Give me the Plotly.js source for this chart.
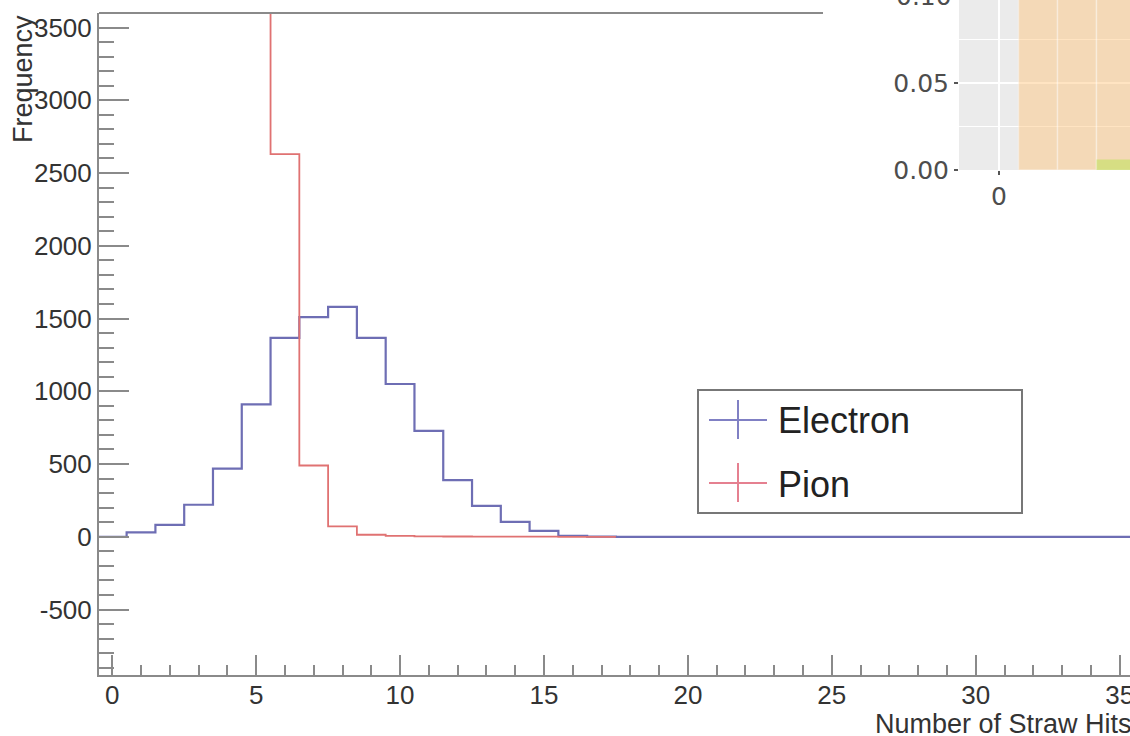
<!DOCTYPE html>
<html>
<head>
<meta charset="utf-8">
<script src="https://cdn.plot.ly/plotly-3.0.1.min.js"></script>
<style>
html,body{margin:0;padding:0;background:#fff;}
#chart{width:1130px;height:736px;}
</style>
</head>
<body>
<div id="chart"></div>
<script>
// ---------------- data ----------------
const electronBins   = [0,1,2,3,4,5,6,7,8,9,10,11,12,13,14,15,16,17,18,19,20,21,22,23,24,25,26,27,28,29,30,31,32,33,34,35,36];
const electronCounts = [0,30,82,220,468,910,1367,1510,1580,1367,1050,728,390,213,103,41,7,1,0,0,0,0,0,0,0,0,0,0,0,0,0,0,0,0,0,0,0];
const pionBins       = [0,1,2,3,4,5,6,7,8,9,10,11,12,13,14,15,16,17];
const pionCounts     = [3900,4300,4700,5000,4800,4400,2630,490,72,14,6,3,2,1,1,1,0,0];
const xTickVals      = [0,5,10,15,20,25,30,35];
const yTickVals      = [-500,0,500,1000,1500,2000,2500,3000,3500];
// inset (overlapping chart in the top-right corner)
const insetBins      = [1,2,3];
const insetOrange    = [0.16,0.20,0.24];
const insetGreen     = [0,0,0.006];
const insetYTicks    = [0,0.05,0.10];
const insetYLabels   = ['0.00','0.05','0.10'];
const insetXTicks    = [0];
const legendNames    = ['Electron','Pion'];

// -------------- helpers ---------------
const W=1130,H=736,L=99,R=0,T=0,B=61;
const PW=W-L-R, PH=H-T-B;
const px = x => (x-L)/PW;
const py = y => (H-B-y)/PH;

function stepEdges(centers, counts){
  const xs=[], ys=[];
  for(let i=0;i<centers.length;i++){ xs.push(centers[i]-0.5); ys.push(counts[i]); }
  xs.push(centers[centers.length-1]+0.5); ys.push(counts[counts.length-1]);
  return {xs, ys};
}
const e = stepEdges(electronBins, electronCounts);
const p = stepEdges(pionBins, pionCounts);

const blue='#6e6eb4', red='#e07272', axisGray='#8a8a8a';
const rootFont = 'Liberation Sans, Arial, Helvetica, sans-serif';
const ggFont = 'DejaVu Sans, Verdana, sans-serif';

const traces = [
  {x:e.xs, y:e.ys, type:'scatter', mode:'lines', line:{shape:'hv', color:blue, width:2.2}, name:legendNames[0], xaxis:'x', yaxis:'y', hoverinfo:'skip'},
  {x:p.xs, y:p.ys, type:'scatter', mode:'lines', line:{shape:'hv', color:red, width:1.8}, name:legendNames[1], xaxis:'x', yaxis:'y', hoverinfo:'skip'},
  {x:insetBins, y:insetOrange, type:'bar', width:1, marker:{color:'rgba(255,195,120,0.45)', line:{color:'rgba(255,255,255,0.35)', width:1.5}}, xaxis:'x2', yaxis:'y2', hoverinfo:'skip'},
  {x:insetBins, y:insetGreen, type:'bar', width:1, marker:{color:'rgba(190,225,90,0.55)', line:{width:0}}, xaxis:'x2', yaxis:'y2', hoverinfo:'skip'}
];

const shapes = [
  // top frame line of the ROOT canvas (visible up to the inset)
  {type:'line', xref:'paper', yref:'paper', x0:0, x1:px(823), y0:py(13), y1:py(13), line:{color:axisGray, width:2}},
  // inset panel background
  {type:'rect', xref:'x2 domain', yref:'y2 domain', x0:0, x1:1, y0:0, y1:1, fillcolor:'#ebebeb', line:{width:0}, layer:'below'},
  // legend box
  {type:'rect', xref:'paper', yref:'paper', x0:px(698), x1:px(1022), y0:py(513), y1:py(390), line:{color:'#777', width:2}, fillcolor:'rgba(255,255,255,1)'},
  // legend crosses
  {type:'line', xref:'paper', yref:'paper', x0:px(709), x1:px(767), y0:py(420), y1:py(420), line:{color:'#8080c4', width:2}},
  {type:'line', xref:'paper', yref:'paper', x0:px(738), x1:px(738), y0:py(400), y1:py(439), line:{color:'#8080c4', width:2}},
  {type:'line', xref:'paper', yref:'paper', x0:px(709), x1:px(767), y0:py(483), y1:py(483), line:{color:'#e58090', width:2}},
  {type:'line', xref:'paper', yref:'paper', x0:px(738), x1:px(738), y0:py(463), y1:py(502), line:{color:'#e58090', width:2}}
];

const annotations = [
  {text:'Frequency', xref:'paper', yref:'paper', x:px(23), y:py(13), xanchor:'center', yanchor:'top', textangle:-90, showarrow:false, font:{family:rootFont, size:27, color:'#333'}},
  {text:'Number of Straw Hits', xref:'paper', yref:'paper', x:px(873), y:py(724), xanchor:'left', yanchor:'middle', showarrow:false, font:{family:rootFont, size:27, color:'#333'}},
  {text:legendNames[0], xref:'paper', yref:'paper', x:px(776), y:py(421), xanchor:'left', yanchor:'middle', showarrow:false, font:{family:rootFont, size:36, color:'#222'}},
  {text:legendNames[1], xref:'paper', yref:'paper', x:px(776), y:py(484), xanchor:'left', yanchor:'middle', showarrow:false, font:{family:rootFont, size:36, color:'#222'}},
  {text:insetYLabels[2], xref:'paper', yref:'paper', x:px(954), y:py(-4), xanchor:'right', yanchor:'middle', showarrow:false, font:{family:ggFont, size:25, color:'#4d4d4d'}}
];

const layout = {
  width:W, height:H,
  margin:{l:L, r:R, t:T, b:B, pad:0},
  paper_bgcolor:'#fff', plot_bgcolor:'rgba(0,0,0,0)',
  showlegend:false,
  barmode:'overlay',
  xaxis:{
    domain:[0,1], range:[-0.46, 35.36], anchor:'y',
    showline:true, linecolor:axisGray, linewidth:2, mirror:false,
    showgrid:false, zeroline:false,
    tickmode:'array', tickvals:xTickVals, ticktext:xTickVals.map(String),
    ticks:'inside', ticklen:20, tickwidth:2, tickcolor:axisGray,
    ticklabeloverflow:'allow', ticklabelstandoff:-4,
    minor:{dtick:1, tick0:0, ticks:'inside', ticklen:10, tickwidth:2, tickcolor:axisGray, showgrid:false},
    tickfont:{family:rootFont, size:26, color:'#333'}
  },
  yaxis:{
    domain:[0, py(13)], range:[-950, 3600], anchor:'x',
    showline:true, linecolor:axisGray, linewidth:2,
    showgrid:false, zeroline:false,
    tickmode:'array', tickvals:yTickVals, ticktext:yTickVals.map(String),
    ticks:'inside', ticklen:30, tickwidth:2, tickcolor:axisGray,
    ticklabeloverflow:'allow',
    minor:{dtick:100, tick0:0, ticks:'inside', ticklen:15, tickwidth:2, tickcolor:axisGray, showgrid:false},
    tickfont:{family:rootFont, size:26, color:'#333'}
  },
  xaxis2:{
    domain:[px(959), 1], range:[-1.026, 3.359], anchor:'y2',
    showline:false, zeroline:false,
    tickmode:'array', tickvals:insetXTicks, ticktext:insetXTicks.map(String),
    showgrid:true, gridcolor:'#ffffff', gridwidth:2,
    ticks:'outside', ticklen:4, tickwidth:1.5, tickcolor:'#555',
    tickfont:{family:ggFont, size:25, color:'#4d4d4d'}
  },
  yaxis2:{
    domain:[py(170), 1], range:[0, 0.0977], anchor:'x2',
    showline:false, zeroline:false,
    tickmode:'array', tickvals:insetYTicks, ticktext:insetYLabels,
    showgrid:true, gridcolor:'#ffffff', gridwidth:2,
    minor:{tickmode:'array', tickvals:[0.025,0.075], showgrid:true, gridcolor:'#ffffff', gridwidth:1, ticks:''},
    ticks:'outside', ticklen:4, tickwidth:1.5, tickcolor:'#555',
    tickfont:{family:ggFont, size:25, color:'#4d4d4d'}
  },
  shapes:shapes,
  annotations:annotations
};

Plotly.newPlot('chart', traces, layout, {staticPlot:true, displayModeBar:false});
</script>
</body>
</html>
